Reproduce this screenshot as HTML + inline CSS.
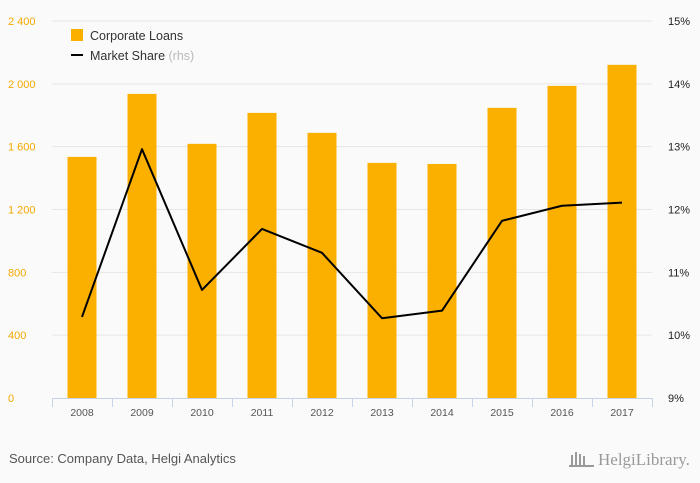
<!DOCTYPE html>
<html><head><meta charset="utf-8"><style>
body{margin:0;background:#fafafa;font-family:"Liberation Sans",sans-serif;}
svg{display:block}
</style></head><body>
<svg id="c" width="700" height="483" xmlns="http://www.w3.org/2000/svg">
<rect width="700" height="483" fill="#fafafa"/>
<g id="grid"></g><g id="bars"></g><g id="line"></g><g id="axes"></g>
<g>
<rect x="71" y="29" width="12" height="12" fill="#fbb000"/>
<text x="90" y="40" font-size="12.5" fill="#333">Corporate Loans</text>
<line x1="71" y1="55" x2="83" y2="55" stroke="#000" stroke-width="2"/>
<text x="90" y="60" font-size="12.5" fill="#333">Market Share <tspan fill="#bbb">(rhs)</tspan></text>
</g>
<text x="9" y="463" font-size="13" fill="#555">Source: Company Data, Helgi Analytics</text>
<text x="598" y="465" font-size="17" fill="#999" font-family="Liberation Serif,serif">HelgiLibrary.</text>
<g fill="#999"><rect x="571" y="455" width="2" height="11"/><rect x="575" y="452" width="2" height="14"/><rect x="579" y="454" width="2" height="12"/><rect x="583" y="456" width="2" height="10"/><rect x="569" y="465" width="25" height="2"/></g>
</svg>
<script>
const years=["2008","2009","2010","2011","2012","2013","2014","2015","2016","2017"];
const loans=[1535,1936,1618,1815,1688,1497,1490,1847,1987,2121];
const share=[10.29,12.96,10.72,11.69,11.31,10.27,10.39,11.82,12.06,12.11];
const leftTicks=[0,400,800,1200,1600,2000,2400];
const leftLabels=["0","400","800","1 200","1 600","2 000","2 400"];
const rightTicks=[9,10,11,12,13,14,15];
const NS="http://www.w3.org/2000/svg";
const x0=52,step=60,yb=398,yt=21;
const yL=v=>yb-(v/2400)*(yb-yt);
const yR=v=>yb-((v-9)/6)*(yb-yt);
const xc=i=>x0+step*i+step/2;
function mk(t,a,p){const e=document.createElementNS(NS,t);for(const k in a)e.setAttribute(k,a[k]);p.appendChild(e);return e;}
const grid=document.getElementById('grid'),bars=document.getElementById('bars'),line=document.getElementById('line'),axes=document.getElementById('axes');
leftTicks.forEach((v,i)=>{
 if(i>0){const g=mk('line',{x1:x0,x2:652,y1:yL(v),y2:yL(v),stroke:'#e6e6e6'},grid);
 
 }
 const t=mk('text',{x:8,y:yL(v)+4,'font-size':11,fill:'#f5a800'},axes);t.textContent=leftLabels[i];
 
 
});
rightTicks.forEach(v=>{
 const t=mk('text',{x:668,y:yR(v)+4,'font-size':11,fill:'#222'},axes);t.textContent=v+'%';
 
 
});
const ax=mk('line',{x1:x0,x2:652,y1:yb+0.5,y2:yb+0.5,stroke:'#c8d2e6'},axes);


years.forEach((y,i)=>{
 const tk=mk('line',{x1:x0+step*i+0.5,x2:x0+step*i+0.5,y1:yb,y2:yb+9,stroke:'#c8d2e6'},axes);
 
 
 const b=mk('rect',{x:xc(i)-14.5,y:yL(loans[i]),width:29,height:yb-yL(loans[i]),fill:'#fbb000'},bars);
 
 
 const t=mk('text',{x:xc(i),y:yb+18,'font-size':10.5,fill:'#555','text-anchor':'middle'},axes);t.textContent=y;
 
 
});
const tk2=mk('line',{x1:652.5,x2:652.5,y1:yb,y2:yb+9,stroke:'#c8d2e6'},axes);


const pl=mk('polyline',{points:share.map((v,i)=>xc(i)+','+yR(v)).join(' '),fill:'none',stroke:'#000','stroke-width':2,'stroke-linejoin':'round'},line);


</script>
</body></html>
